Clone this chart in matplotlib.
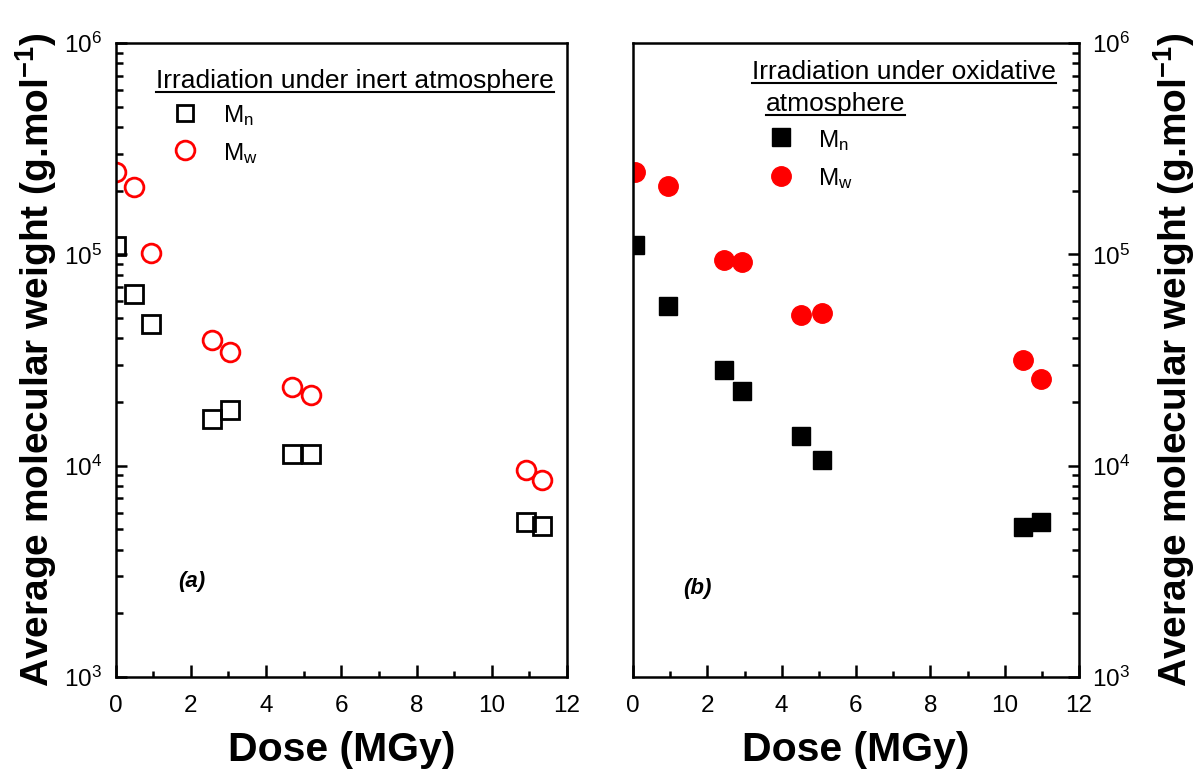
import matplotlib
matplotlib.use('Agg')
import matplotlib.pyplot as plt
from matplotlib.ticker import LogLocator, FixedLocator, NullFormatter
import numpy as np

# ---------------------------------------------------------
# data
# ---------------------------------------------------------
# (a) irradiation under inert atmosphere
dose_inert = [0.0, 0.49, 0.95, 2.56, 3.05, 4.70, 5.20, 10.92, 11.33]
mn_inert = [1.09e5, 6.5e4, 4.7e4, 1.66e4, 1.83e4, 1.13e4, 1.14e4, 5.4e3, 5.2e3]
mw_inert = [2.44e5, 2.09e5, 1.01e5, 3.93e4, 3.46e4, 2.36e4, 2.16e4, 9.5e3, 8.6e3]

# (b) irradiation under oxidative atmosphere
dose_ox = [0.05, 0.94, 2.45, 2.92, 4.52, 5.08, 10.48, 10.98]
mn_ox = [1.11e5, 5.7e4, 2.83e4, 2.25e4, 1.38e4, 1.06e4, 5.15e3, 5.42e3]
mw_ox = [2.44e5, 2.10e5, 9.4e4, 9.23e4, 5.16e4, 5.3e4, 3.16e4, 2.57e4]

XTICKS = [0, 2, 4, 6, 8, 10, 12]
XLABEL = "Dose (MGy)"
YLABEL = r"Average molecular weight (g.mol$^{\mathbf{-1}}$)"

plt.rcParams['font.family'] = ['Liberation Sans', 'DejaVu Sans']
plt.rcParams['mathtext.fontset'] = 'custom'
plt.rcParams['mathtext.rm'] = 'Liberation Sans'
plt.rcParams['mathtext.it'] = 'Liberation Sans:italic'
plt.rcParams['mathtext.bf'] = 'Liberation Sans:bold'
plt.rcParams['mathtext.default'] = 'regular'

fig = plt.figure(figsize=(12, 7.76), dpi=100)
W, H = 1200, 776
ax1 = fig.add_axes([115.5 / W, 1 - 677 / H, 451.5 / W, 634 / H])
ax2 = fig.add_axes([633 / W, 1 - 677 / H, 446 / W, 634 / H])


def style_axis(ax, side):
    ax.set_xlim(0, 12)
    ax.set_yscale('log')
    ax.set_ylim(1e3, 1e6)
    for sp in ax.spines.values():
        sp.set_linewidth(1.8)
    ax.xaxis.set_major_locator(FixedLocator(XTICKS))
    ax.xaxis.set_minor_locator(FixedLocator(np.arange(1, 12, 2)))
    ax.yaxis.set_major_locator(LogLocator(base=10, numticks=10))
    ax.yaxis.set_minor_locator(LogLocator(base=10, subs=np.arange(2, 10), numticks=10))
    ax.yaxis.set_minor_formatter(NullFormatter())
    ax.tick_params(axis='x', which='both', direction='in', top=False, bottom=True,
                   width=1.8, labelsize=17.5, pad=13)
    ax.tick_params(axis='x', which='major', length=8.5)
    ax.tick_params(axis='x', which='minor', length=4)
    left = side == 'left'
    ax.tick_params(axis='y', which='both', direction='in', left=left, right=not left,
                   labelleft=left, labelright=not left, width=1.8, labelsize=17.5, pad=9.5)
    ax.tick_params(axis='y', which='major', length=8)
    ax.tick_params(axis='y', which='minor', length=5)
    ax.set_xlabel(XLABEL, fontsize=29.5, fontweight='bold', labelpad=10)
    if not left:
        ax.yaxis.set_label_position('right')
    ax.set_ylabel(YLABEL, fontsize=28, fontweight='bold', rotation=90,
                  labelpad=4 if left else 15)


style_axis(ax1, 'left')
style_axis(ax2, 'right')

# (a) open symbols
ax1.plot(dose_inert, mn_inert, 's', ms=13, mfc='none', mec='black', mew=2)
ax1.plot(dose_inert, mw_inert, 'o', ms=13.5, mfc='none', mec='red', mew=2)

# (b) filled symbols
ax2.plot(dose_ox, mn_ox, 's', ms=12.5, mfc='black', mec='black', mew=1)
ax2.plot(dose_ox, mw_ox, 'o', ms=14, mfc='red', mec='red', mew=1)

# ---------------------------------------------------------
# hand-made legends with underlined titles
# ---------------------------------------------------------
t1 = ax1.text(0.0897, 0.929, "Irradiation under inert atmosphere", transform=ax1.transAxes,
              fontsize=19, ha='left', va='baseline')
ax1.plot([0.154], [0.890], 's', ms=12, mfc='none', mec='black', mew=2,
         transform=ax1.transAxes, clip_on=False)
ax1.text(0.238, 0.876, r"M$_n$", transform=ax1.transAxes, fontsize=17.5, va='baseline')
ax1.plot([0.154], [0.832], 'o', ms=13.5, mfc='none', mec='red', mew=2,
         transform=ax1.transAxes, clip_on=False)
ax1.text(0.238, 0.815, r"M$_w$", transform=ax1.transAxes, fontsize=17.5, va='baseline')

t2 = ax2.text(0.267, 0.944, "Irradiation under oxidative", transform=ax2.transAxes,
              fontsize=19, ha='left', va='baseline')
t3 = ax2.text(0.298, 0.892, "atmosphere", transform=ax2.transAxes,
              fontsize=19, ha='left', va='baseline')
ax2.plot([0.332], [0.852], 's', ms=12.5, mfc='black', mec='black',
         transform=ax2.transAxes, clip_on=False)
ax2.text(0.415, 0.836, r"M$_n$", transform=ax2.transAxes, fontsize=17.5, va='baseline')
ax2.plot([0.332], [0.790], 'o', ms=14, mfc='red', mec='red',
         transform=ax2.transAxes, clip_on=False)
ax2.text(0.415, 0.776, r"M$_w$", transform=ax2.transAxes, fontsize=17.5, va='baseline')

ax1.text(0.169, 0.150, "(a)", transform=ax1.transAxes, fontsize=16,
         fontweight='bold', fontstyle='italic', ha='center', va='center')
ax2.text(0.1435, 0.140, "(b)", transform=ax2.transAxes, fontsize=16,
         fontweight='bold', fontstyle='italic', ha='center', va='center')

# underline the legend titles
fig.canvas.draw()
renderer = fig.canvas.get_renderer()
for ax, t in [(ax1, t1), (ax2, t2), (ax2, t3)]:
    bb = t.get_window_extent(renderer)
    x_base, y_base = ax.transAxes.transform(t.get_position())
    inv = ax.transAxes.inverted()
    (xa, ya), (xb, _) = inv.transform([[bb.x0, y_base - 4], [bb.x1, y_base - 4]])
    ax.plot([xa, xb], [ya, ya], color='black', lw=1.5, transform=ax.transAxes, clip_on=False)

fig.savefig('out.png', dpi=100)
